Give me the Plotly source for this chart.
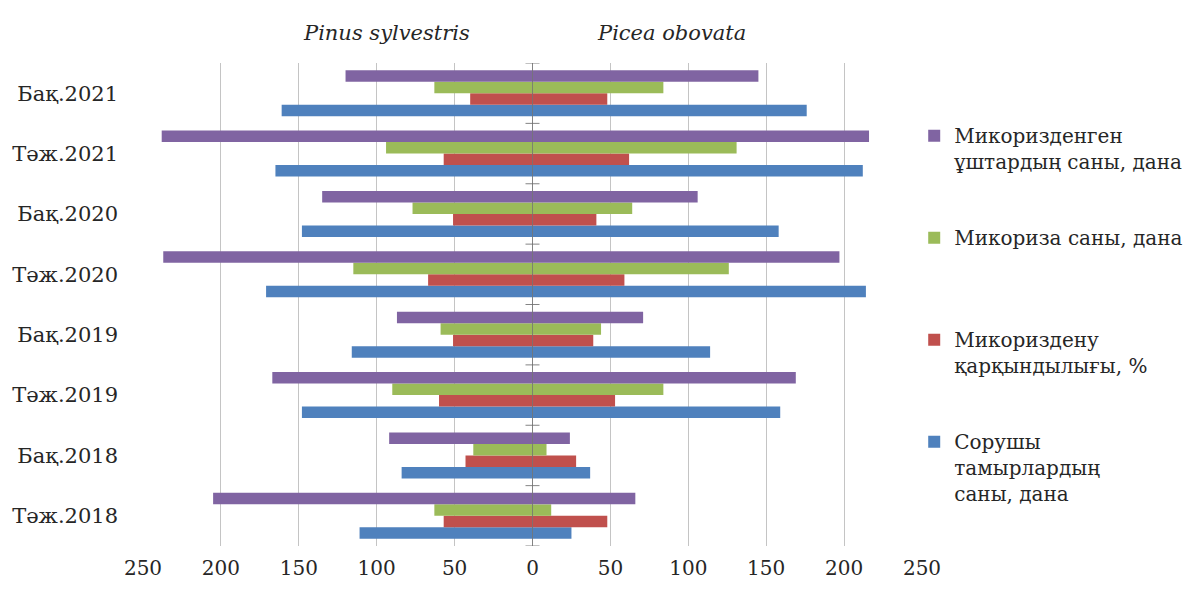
import plotly.graph_objects as go

# Sampling periods, listed bottom to top
categories = ["Тәж.2018", "Бақ.2018", "Тәж.2019", "Бақ.2019",
              "Тәж.2020", "Бақ.2020", "Тәж.2021", "Бақ.2021"]

# Pinus sylvestris (drawn to the left of zero)
pinus_roots = [111, 84, 148, 116, 171, 148, 165, 161]
pinus_intensity = [57, 43, 60, 51, 67, 51, 57, 40]
pinus_mycorrhiza = [63, 38, 90, 59, 115, 77, 94, 63]
pinus_tips = [205, 92, 167, 87, 237, 135, 238, 120]

# Picea obovata (drawn to the right of zero)
picea_roots = [25, 37, 159, 114, 214, 158, 212, 176]
picea_intensity = [48, 28, 53, 39, 59, 41, 62, 48]
picea_mycorrhiza = [12, 9, 84, 44, 126, 64, 131, 84]
picea_tips = [66, 24, 169, 71, 197, 106, 216, 145]

series_names = [
    "Сорушы<br>тамырлардың<br>саны, дана",
    "Микориздену<br>қарқындылығы, %",
    "Микориза саны, дана<br> ",
    "Микоризденген<br>ұштардың саны, дана",
]
series_colors = ["#4F81BD", "#C0504D", "#9BBB59", "#8064A2"]
legend_ranks = [4, 3, 2, 1]
left_values = [pinus_roots, pinus_intensity, pinus_mycorrhiza, pinus_tips]
right_values = [picea_roots, picea_intensity, picea_mycorrhiza, picea_tips]

tick_values = [-250, -200, -150, -100, -50, 0, 50, 100, 150, 200, 250]
tick_labels = ["250", "200", "150", "100", "50", "0", "50", "100", "150", "200", "250"]

FONT = "DejaVu Serif, serif"
TEXT_SIZE = 21
LEGEND_SIZE = 20
TICK_SIZE = 20
INK = "#262626"

fig = go.Figure()
for i, (name, color, rank, lv, rv) in enumerate(zip(series_names, series_colors, legend_ranks,
                                                      left_values, right_values)):
    group = f"s{i}"
    fig.add_trace(go.Bar(
        y=categories, x=[-v for v in lv], orientation="h",
        marker=dict(color=color, line=dict(width=0)),
        offsetgroup=group, legendgroup=group, legendrank=rank, showlegend=False, name=name,
    ))
    fig.add_trace(go.Bar(
        y=categories, x=rv, orientation="h",
        marker=dict(color=color, line=dict(width=0)),
        offsetgroup=group, legendgroup=group, legendrank=rank, showlegend=True, name=name,
    ))

# Vertical zero axis with cross ticks at category boundaries
shapes = [dict(type="line", xref="x", yref="y", x0=0, x1=0, y0=-0.5, y1=len(categories) - 0.5,
               line=dict(color="rgba(110,110,110,0.75)", width=1), layer="above")]
for k in range(len(categories) + 1):
    shapes.append(dict(type="line", xref="x", yref="y", xsizemode="pixel", xanchor=0,
                       x0=-7, x1=7, y0=k - 0.5, y1=k - 0.5,
                       line=dict(color="rgba(110,110,110,0.85)", width=1), layer="above"))

fig.update_layout(
    width=1200, height=592,
    margin=dict(l=140, r=274, t=63, b=33),
    paper_bgcolor="white", plot_bgcolor="white",
    barmode="group", bargap=0.24, bargroupgap=0,
    font=dict(family=FONT, size=TEXT_SIZE, color=INK),
    shapes=shapes,
    xaxis=dict(range=[-250, 250], tickvals=tick_values, ticktext=tick_labels,
               showgrid=True, gridcolor="#c4c4c4", gridwidth=1, zeroline=False,
               showline=False, ticks="", ticklabelstandoff=8,
               tickfont=dict(family=FONT, size=TICK_SIZE, color=INK)),
    yaxis=dict(type="category", range=[-0.5, len(categories) - 0.5],
               showgrid=False, zeroline=False, showline=False, ticks="",
               ticklabelstandoff=24, tickfont=dict(family=FONT, size=TEXT_SIZE, color=INK)),
    legend=dict(x=0.99, xanchor="left", y=0.89, yanchor="top",
                traceorder="grouped", tracegroupgap=47, valign="top",
                font=dict(family=FONT, size=LEGEND_SIZE, color=INK), bgcolor="rgba(0,0,0,0)"),
    annotations=[
        dict(text="<i>Pinus sylvestris</i>", xref="paper", yref="paper", x=0.312, y=1.0625,
             xanchor="center", yanchor="middle", showarrow=False,
             font=dict(family=FONT, size=TEXT_SIZE, color=INK)),
        dict(text="<i>Picea obovata</i>", xref="paper", yref="paper", x=0.679, y=1.0625,
             xanchor="center", yanchor="middle", showarrow=False,
             font=dict(family=FONT, size=TEXT_SIZE, color=INK)),
    ],
)

fig.write_html("out.html")
